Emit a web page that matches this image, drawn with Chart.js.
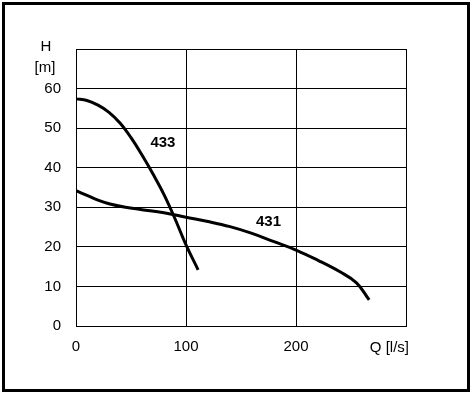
<!DOCTYPE html>
<html lang="en">
<head>
<meta charset="UTF-8">
<title>Pump curves</title>
<style>
  body { margin: 0; background: #fff; }
  #wrap { width: 472px; height: 394px; }
</style>
</head>
<body>
<div id="wrap"><canvas id="myChart" width="472" height="394"></canvas></div>
<script src="https://cdn.jsdelivr.net/npm/chart.js"></script>
<script>
// curve 433
let q433 = [0, 10, 20, 30, 40, 50, 60, 70, 80, 90, 100, 111]
let h433 = [57.4, 57.0, 55.8, 54.0, 51.3, 47.6, 43.2, 38.4, 33.2, 27.1, 20.5, 14.2]
// curve 431
let q431 = [0, 10, 20, 30, 45, 60, 80, 100, 120, 140, 160, 180, 200, 220, 240, 255, 266.5]
let h431 = [34.2, 33.0, 31.8, 30.9, 30.0, 29.4, 28.6, 27.5, 26.4, 25.1, 23.4, 21.3, 19.2, 16.6, 13.7, 10.9, 6.6]
let xTicks = [0, 100, 200, 300]
let yTicks = [0, 10, 20, 30, 40, 50, 60, 70]
// curve names and where they sit
let curveLabels = [
    { text: "433", q: 79, h: 46.2 },
    { text: "431", q: 175, h: 26.2 }
]

function toPoints(xs, ys) {
    return xs.map((x, i) => ({ x: x, y: ys[i] }))
}

let font = "Liberation Sans, Arial, sans-serif"

let extras = {
    id: "extras",
    afterDraw(chart) {
        let c = chart.ctx
        let xs = chart.scales.x, ys = chart.scales.y
        c.save()
        // outer frame
        c.strokeStyle = "#000"
        c.lineWidth = 3
        c.strokeRect(3.5, 3.5, 465, 387)
        c.fillStyle = "#000"
        c.font = "bold 15px " + font
        c.textAlign = "center"
        c.textBaseline = "middle"
        curveLabels.forEach(l => {
            c.fillText(l.text, xs.getPixelForValue(l.q), ys.getPixelForValue(l.h))
        })
        c.font = "15px " + font
        c.fillText("H", 46, 47)
        c.fillText("[m]", 45, 68)
        c.textAlign = "right"
        c.fillText("Q [l/s]", 409, 348)
        c.restore()
    }
}

let ctx = document.getElementById("myChart")
let chart = new Chart(ctx, {
    type: "scatter",
    data: {
        datasets: [
            {
                label: "433",
                data: toPoints(q433, h433),
                showLine: true,
                borderColor: "#000",
                borderWidth: 3,
                pointRadius: 0,
                tension: 0.4
            },
            {
                label: "431",
                data: toPoints(q431, h431),
                showLine: true,
                borderColor: "#000",
                borderWidth: 3,
                pointRadius: 0,
                tension: 0.4
            }
        ]
    },
    options: {
        responsive: false,
        animation: false,
        layout: { padding: { top: 49, right: 66, left: 0, bottom: 0 } },
        plugins: { legend: { display: false }, tooltip: { enabled: false } },
        scales: {
            x: {
                type: "linear",
                min: 0,
                max: 300,
                afterBuildTicks: s => { s.ticks = xTicks.map(v => ({ value: v })) },
                afterFit: s => { s.height = 68 },
                grid: { color: "#000", lineWidth: 1, drawTicks: false },
                border: { color: "#000", width: 1 },
                ticks: {
                    padding: 12,
                    color: "#000",
                    font: { family: font, size: 15 },
                    callback: v => (v === 300 ? "" : v)
                }
            },
            y: {
                min: 0,
                max: 70,
                afterBuildTicks: s => { s.ticks = yTicks.map(v => ({ value: v })) },
                afterFit: s => { s.width = 76 },
                grid: { color: "#000", lineWidth: 1, drawTicks: false },
                border: { color: "#000", width: 1 },
                ticks: {
                    padding: 15,
                    color: "#000",
                    font: { family: font, size: 15 },
                    callback: v => (v === 70 ? "" : v)
                }
            }
        }
    },
    plugins: [extras]
})
</script>
</body>
</html>
